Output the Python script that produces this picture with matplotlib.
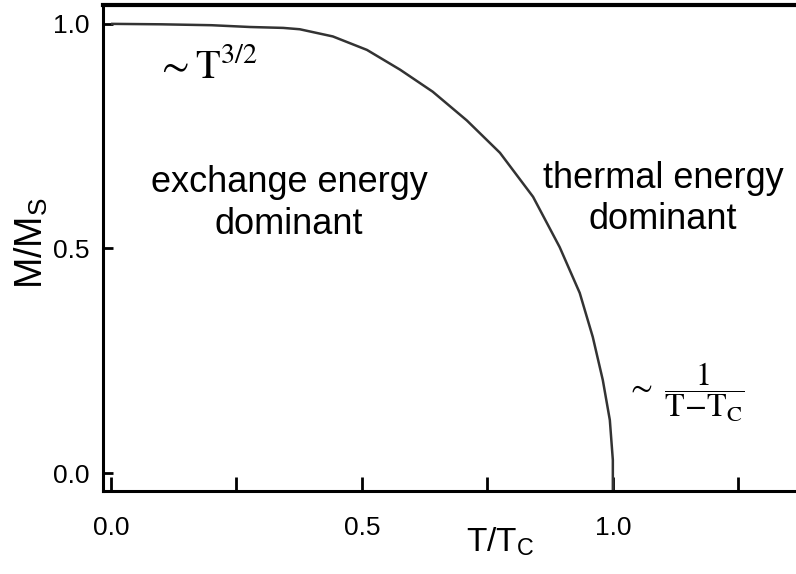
import matplotlib.pyplot as plt

# reduced magnetisation curve M/Ms vs T/Tc
t_ratio = [0.0, 0.10, 0.20, 0.277, 0.343, 0.376, 0.442, 0.510, 0.576, 0.641,
           0.709, 0.775, 0.841, 0.894, 0.934, 0.960, 0.980, 0.994, 1.0, 1.0]
m_ratio = [1.0, 0.999, 0.997, 0.993, 0.991, 0.988, 0.972, 0.942, 0.898, 0.849,
           0.785, 0.713, 0.615, 0.503, 0.401, 0.303, 0.207, 0.118, 0.029, -0.04]

x_ticks = [0.0, 0.25, 0.5, 0.75, 1.0, 1.25]
x_tick_labels = ["0.0", "", "0.5", "", "1.0", ""]
y_ticks = [0.0, 0.5, 1.0]
y_tick_labels = ["0.0", "0.5", "1.0"]

plt.rcParams["font.family"] = ["Liberation Sans", "DejaVu Sans"]
plt.rcParams["mathtext.fontset"] = "stix"

fig = plt.figure(figsize=(7.96, 5.74), dpi=100)
ax = fig.add_axes([0.1294, 0.1446, 0.8706, 0.8467])

ax.plot(t_ratio, m_ratio, color="#333333", lw=1.8, solid_capstyle="butt",
        solid_joinstyle="round")

ax.set_xlim(-0.016, 1.365)
ax.set_ylim(-0.04, 1.042)

ax.set_xticks(x_ticks)
ax.set_xticklabels(x_tick_labels)
ax.set_yticks(y_ticks)
ax.set_yticklabels(y_tick_labels)
ax.tick_params(axis="x", direction="in", length=10, width=2, labelsize=19, pad=18)
ax.tick_params(axis="y", direction="in", length=7, width=2, labelsize=19, pad=10)

for side in ["left", "bottom"]:
    ax.spines[side].set_linewidth(2.2)
ax.spines["top"].set_linewidth(3.0)
ax.spines["right"].set_visible(False)

ax.set_xlabel("T/T$_\\mathregular{C}$", fontsize=24)
ax.xaxis.set_label_coords(0.573, -0.072)
ax.set_ylabel("M/M$_\\mathregular{S}$", fontsize=27)
ax.yaxis.set_label_coords(-0.075, 0.51)

ax.text(0.355, 0.60, "exchange energy\ndominant", fontsize=26,
        ha="center", va="center", linespacing=1.25)
ax.text(1.10, 0.61, "thermal energy\ndominant", fontsize=26,
        ha="center", va="center", linespacing=1.25)

ax.text(0.19, 0.905, r"$\sim \mathrm{T}^{3/2}$", fontsize=29,
        ha="center", va="center")
ax.text(1.145, 0.18, r"$\sim\ \dfrac{1}{\mathrm{T}{-}\mathrm{T}_\mathrm{C}}$",
        fontsize=23, ha="center", va="center")

fig.savefig("out.png", dpi=100)
